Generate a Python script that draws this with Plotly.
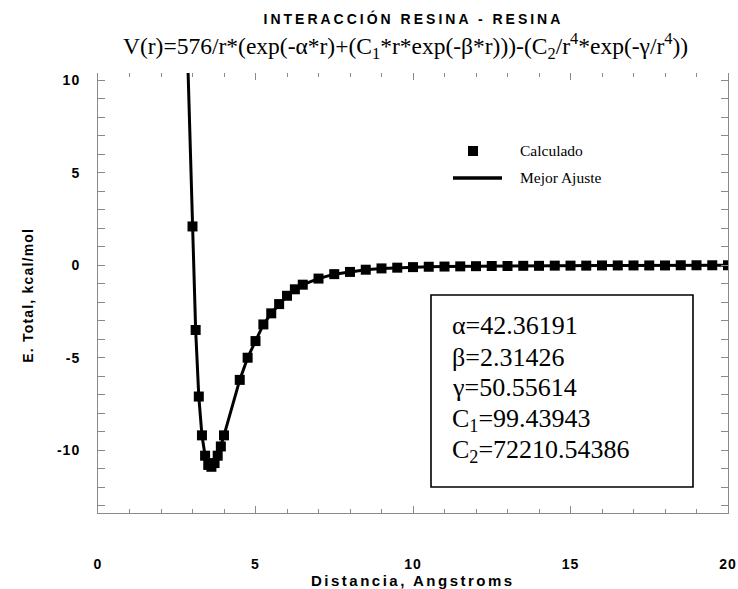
import plotly.graph_objects as go

# Calculated interaction energies (kcal/mol) versus separation (Angstroms)
r_calc = [3.0, 3.1, 3.2, 3.3, 3.4, 3.5, 3.6, 3.7, 3.8, 3.9, 4.0, 4.5, 4.75,
          5.0, 5.25, 5.5, 5.75, 6.0, 6.25, 6.5, 7.0, 7.5, 8.0, 8.5, 9.0,
          9.5, 10.0, 10.5, 11.0, 11.5, 12.0, 12.5, 13.0, 13.5, 14.0, 14.5,
          15.0, 15.5, 16.0, 16.5, 17.0, 17.5, 18.0, 18.5, 19.0, 19.5, 20.0]
e_calc = [2.1, -3.5, -7.1, -9.2, -10.3, -10.8, -10.9, -10.7, -10.3, -9.8, -9.2,
          -6.2, -5.0, -4.1, -3.2, -2.6, -2.1, -1.65, -1.3, -1.05, -0.72, -0.48,
          -0.36, -0.24, -0.17, -0.13, -0.10, -0.08, -0.07, -0.06, -0.05, -0.04,
          -0.04, -0.03, -0.03, -0.02, -0.02, -0.02, -0.01, -0.01, -0.01, -0.01,
          -0.01, 0.0, 0.0, 0.0, 0.0]

# Best-fit curve (starts above the visible range on the repulsive wall)
r_fit = [2.85] + r_calc
e_fit = [11.0] + e_calc

# Fitted parameters shown in the box
param_labels = ["α=42.36191", "β=2.31426", "γ=50.55614",
                "C<sub>1</sub>=99.43943", "C<sub>2</sub>=72210.54386"]

x_ticks = [0, 5, 10, 15, 20]
x_ticktext = ["0", "5", "10", "15", "20"]
y_ticks = [-10, -5, 0, 5, 10]
y_ticktext = ["-10", "-5", "0", "5", "10"]

SANS = "Liberation Sans, Arial, sans-serif"
SERIF = "Liberation Serif, Times New Roman, serif"
AXIS_GRAY = "#8a8a8a"

# plot area in pixels
L, R, T, B = 98, 728, 73, 513
W, H = R - L, B - T


def px(x):
    return (x - L) / W


def py(y):
    return (B - y) / H


fig = go.Figure()
fig.add_trace(go.Scatter(x=r_fit, y=e_fit, mode="lines", xaxis="x2",
                         line=dict(color="black", width=3),
                         name="Mejor Ajuste", showlegend=False,
                         hoverinfo="skip"))
fig.add_trace(go.Scatter(x=r_calc, y=e_calc, mode="markers",
                         marker=dict(symbol="square", size=10, color="black"),
                         name="Calculado", showlegend=False))

tick_common = dict(ticks="inside", ticklen=7, tickcolor=AXIS_GRAY, tickwidth=1,
                   minor=dict(dtick=1, ticks="inside", ticklen=4,
                              tickcolor=AXIS_GRAY, tickwidth=1))

fig.update_layout(
    width=738, height=589,
    margin=dict(l=L, r=738 - R, t=T, b=589 - B),
    paper_bgcolor="white", plot_bgcolor="white",
    showlegend=False,
    xaxis=dict(range=[0, 20], tickvals=x_ticks, ticktext=x_ticktext,
               showgrid=False, zeroline=False, automargin=False,
               showline=True, linecolor=AXIS_GRAY, linewidth=1,
               ticklabelstandoff=38,
               tickfont=dict(family=SANS, size=14, color="black", weight="bold"),
               **tick_common),
    xaxis2=dict(matches="x", overlaying="x", side="top", tickvals=x_ticks,
                showgrid=False, zeroline=False, showline=False, automargin=False,
                showticklabels=False, **tick_common),
    yaxis=dict(range=[-13.4, 10.4], tickvals=y_ticks, ticktext=y_ticktext,
               showgrid=False, zeroline=False, automargin=False,
               showline=True, mirror="allticks", linecolor=AXIS_GRAY, linewidth=1,
               ticklabelstandoff=14,
               tickfont=dict(family=SANS, size=14, color="black", weight="bold"),
               **tick_common),
)

# Titles
fig.add_annotation(text="INTERACCIÓN RESINA - RESINA", xref="paper", yref="paper",
                   x=px(413), y=py(18), xanchor="center", yanchor="middle",
                   showarrow=False,
                   font=dict(family=SANS, size=14, color="black", weight="bold"))
fig.add_annotation(text="V(r)=576/r*(exp(-α*r)+(C<sub>1</sub>*r*exp(-β*r)))-(C<sub>2</sub>/r<sup>4</sup>*exp(-γ/r<sup>4</sup>))",
                   xref="paper", yref="paper", x=px(405), y=py(46),
                   xanchor="center", yanchor="middle", showarrow=False,
                   font=dict(family=SERIF, size=23.5, color="black"))
fig.add_annotation(text="Distancia, Angstroms", xref="paper", yref="paper",
                   x=px(413), y=py(580), xanchor="center", yanchor="middle",
                   showarrow=False,
                   font=dict(family=SANS, size=15, color="black", weight="bold"))
fig.add_annotation(text="E. Total, kcal/mol", xref="paper", yref="paper",
                   x=px(28), y=py(296), xanchor="center", yanchor="middle",
                   textangle=-90, showarrow=False,
                   font=dict(family=SANS, size=14, color="black", weight="bold"))

# Legend keys
fig.add_shape(type="rect", xref="paper", yref="paper",
              x0=px(468), x1=px(478), y0=py(156), y1=py(146),
              fillcolor="black", line=dict(width=0))
fig.add_shape(type="line", xref="paper", yref="paper",
              x0=px(453), x1=px(502), y0=py(178), y1=py(178),
              line=dict(color="black", width=3.5))
fig.add_annotation(text="Calculado", xref="paper", yref="paper",
                   x=px(518), y=py(150), xanchor="left", yanchor="middle",
                   showarrow=False,
                   font=dict(family=SERIF, size=15.5, color="black"))
fig.add_annotation(text="Mejor Ajuste", xref="paper", yref="paper",
                   x=px(518), y=py(177), xanchor="left", yanchor="middle",
                   showarrow=False,
                   font=dict(family=SERIF, size=15.5, color="black"))

# Parameter box
fig.add_shape(type="rect", xref="paper", yref="paper",
              x0=px(431), x1=px(693), y0=py(487), y1=py(295),
              line=dict(color="black", width=1.6), fillcolor="white", layer="below")
param_y = [325, 357, 388, 420, 451]
for label, yy in zip(param_labels, param_y):
    fig.add_annotation(text=label, xref="paper", yref="paper",
                       x=px(450), y=py(yy), xanchor="left", yanchor="middle",
                       align="left", showarrow=False,
                       font=dict(family=SERIF, size=26, color="black"))

# Wider tracking on the sans-serif labels
spacing_js = """
var gd = document.getElementById('{plot_id}');
function track() {
  var map = {'INTERACCIÓN RESINA - RESINA': '3px',
             'Distancia, Angstroms': '2.5px',
             'E. Total, kcal/mol': '1.2px'};
  gd.querySelectorAll('text.annotation-text').forEach(function (t) {
    if (map[t.textContent]) { t.style.letterSpacing = map[t.textContent]; }
  });
  gd.querySelectorAll('.xtick text, .ytick text').forEach(function (t) {
    t.style.letterSpacing = '1px';
  });
}
track();
gd.on('plotly_afterplot', track);
"""

fig.write_html("out.html", post_script=spacing_js)
